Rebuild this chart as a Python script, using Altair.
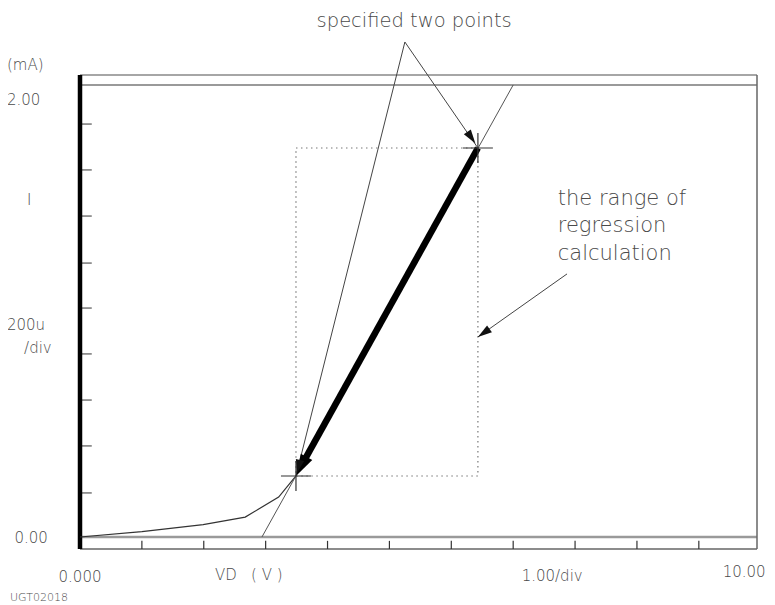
import altair as alt
import pandas as pd

# ---- data (volts on x, mA on y) ----
x_min, x_max = 0.0, 10.94
y_min, y_max = -0.053, 2.044
i_full = 2.00            # top of the current range (2.00 mA)

curve_v = [0.0, 1.00, 1.99, 2.67, 3.21, 3.49]
curve_i = [0.0, 0.024, 0.055, 0.088, 0.177, 0.270]

pt_lo = (3.49, 0.270)     # first specified point
pt_hi = (6.43, 1.721)     # second specified point
reg_v = [2.94, 7.00]      # extended regression line
reg_i = [0.0, 2.00]
thick_end = (3.58, 0.317)

apex = (5.25, 2.190)      # where the two annotation lines meet
range_from = (7.87, 1.164)
range_to = (6.43, 0.885)

x_ticks = [1, 2, 3, 4, 5, 6, 7, 8, 9, 10]
y_ticks = [0.195, 0.403, 0.606, 0.810, 1.013, 1.212, 1.420, 1.624, 1.827]

FONT = "DejaVu Sans"
TXT = "#4a4a4a"
ARROW = "M0,0L0.3,1L-0.3,1Z"
CROSS = "M-1,0L1,0M0,-1L0,1"
NB = "\u00a0"

XS = alt.Scale(domain=[x_min, x_max], nice=False, zero=False)
YS = alt.Scale(domain=[y_min, y_max], nice=False, zero=False)


def segs(rows, **style):
    df = pd.DataFrame(rows, columns=["x", "y", "x2", "y2"])
    return alt.Chart(df).mark_rule(**style).encode(
        x=alt.X("x:Q", scale=XS, axis=None),
        y=alt.Y("y:Q", scale=YS, axis=None),
        x2="x2:Q", y2="y2:Q")


def texts(rows, align, size, **kw):
    df = pd.DataFrame(rows, columns=["label", "x", "y"])
    return alt.Chart(df).mark_text(align=align, baseline="alphabetic", fontSize=size,
                                   font=FONT, fontWeight=200, color=TXT, **kw).encode(
        x=alt.X("x:Q", scale=XS, axis=None),
        y=alt.Y("y:Q", scale=YS, axis=None),
        text="label:N")


def head(pt, angle, size, color="#111111"):
    df = pd.DataFrame({"x": [pt[0]], "y": [pt[1]]})
    return alt.Chart(df).mark_point(shape=ARROW, filled=True, color=color, opacity=1,
                                    angle=angle, size=size, strokeWidth=0).encode(
        x=alt.X("x:Q", scale=XS, axis=None), y=alt.Y("y:Q", scale=YS, axis=None))


layers = []
# frame
layers.append(segs([[x_min, y_max, x_max, y_max]], color="#888888", strokeWidth=1.5))
layers.append(segs([[x_min, i_full, x_max, i_full]], color="#9a9a9a", strokeWidth=2))
layers.append(segs([[x_min, 0.0, x_max, 0.0]], color="#9a9a9a", strokeWidth=2.5))
layers.append(segs([[x_min, y_min, x_max, y_min], [x_max, y_min, x_max, y_max]],
                   color="#666666", strokeWidth=1.5))
# ticks
layers.append(segs([[0.0, t, 0.19, t] for t in y_ticks], color="#555555", strokeWidth=1.2))
layers.append(segs([[t, y_min, t, y_min + 0.036] for t in x_ticks], color="#333333", strokeWidth=1.2))
layers.append(segs([[0.0, y_min, 0.0, y_max]], color="#000000", strokeWidth=4.5))

# range box (dotted)
box = pd.DataFrame({"x": [pt_lo[0]], "x2": [pt_hi[0]], "y": [pt_lo[1]], "y2": [pt_hi[1]]})
layers.append(alt.Chart(box).mark_rect(fillOpacity=0, stroke="#777777", strokeWidth=1.2,
                                       strokeDash=[1.5, 3.5]).encode(
    x=alt.X("x:Q", scale=XS, axis=None), x2="x2:Q",
    y=alt.Y("y:Q", scale=YS, axis=None), y2="y2:Q"))

# measured curve
cdf = pd.DataFrame({"v": curve_v, "i": curve_i, "o": list(range(len(curve_v)))})
layers.append(alt.Chart(cdf).mark_line(color="#333333", strokeWidth=1.2).encode(
    x=alt.X("v:Q", scale=XS, axis=None), y=alt.Y("i:Q", scale=YS, axis=None), order="o:Q"))

# extended regression line
layers.append(segs([[reg_v[0], reg_i[0], reg_v[1], reg_i[1]]], color="#555555", strokeWidth=1))

# annotation lines
layers.append(segs([[apex[0], apex[1], pt_lo[0], pt_lo[1]],
                    [apex[0], apex[1], pt_hi[0], pt_hi[1]],
                    [range_from[0], range_from[1], range_to[0], range_to[1]]],
                   color="#444444", strokeWidth=1))

# thick regression segment
layers.append(segs([[pt_hi[0], pt_hi[1], thick_end[0], thick_end[1]]],
                   color="#000000", strokeWidth=6.5, strokeCap="butt"))
layers.append(head(pt_lo, 209, 1900, "#000000"))

# arrow heads of annotations
layers.append(head((pt_lo[0] + 0.01, pt_lo[1] + 0.01), 194, 800))
layers.append(head((pt_hi[0] - 0.04, pt_hi[1] + 0.02), 145, 800))
layers.append(head(range_to, 235, 800))

# crosshairs at the two points
cross = pd.DataFrame({"x": [pt_lo[0], pt_hi[0]], "y": [pt_lo[1], pt_hi[1]]})
layers.append(alt.Chart(cross).mark_point(shape=CROSS, filled=False, color="#333333",
                                          size=900, strokeWidth=1.2, opacity=1).encode(
    x=alt.X("x:Q", scale=XS, axis=None), y=alt.Y("y:Q", scale=YS, axis=None)))

# texts
layers.append(texts([["(mA)", -1.18, 2.066], ["2.00", -1.18, 1.912],
                     ["200u", -1.18, 0.916]], "left", 15))
layers.append(texts([["UGT02018", -1.13, -0.285]], "left", 11))
layers.append(texts([["I", -0.82, 1.469], ["/div", -0.68, 0.814], ["0.00", -0.79, -0.027]],
                    "center", 15))
layers.append(texts([["0.000", 0.0, -0.198], ["1.00/div", 7.63, -0.195]], "center", 15))
layers.append(texts([["VD" + NB * 3 + "(" + NB + "V" + NB + ")", 2.18, -0.190]], "left", 15))
layers.append(texts([["10.00", 11.08, -0.176]], "right", 15))
layers.append(texts([["specified two points", 5.40, 2.257]], "center", 19.5))
layers.append(texts([["the range of", 7.72, 1.469], ["regression", 7.72, 1.350],
                     ["calculation", 7.72, 1.226]], "left", 21))

chart = alt.layer(*layers).properties(
    width=677, height=474,
    autosize=alt.AutoSizeParams(type="none"),
    padding={"left": 72, "top": 67, "right": 10, "bottom": 56},
).configure_view(stroke=None)

chart.save("out.html", embed_options={"renderer": "svg", "actions": False})
